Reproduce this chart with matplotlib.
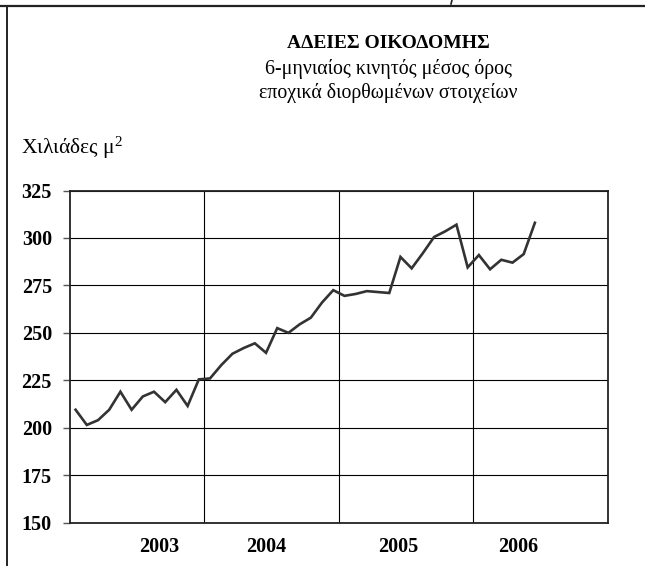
import matplotlib
matplotlib.use('Agg')
from matplotlib import pyplot as plt

# 6-month moving average, thousands m2, monthly
values = [209.5, 201.5, 204, 209.5, 219, 209.5, 216.5, 219, 213.5, 220, 211.5, 225.5,
          226, 233, 239, 242, 244.5, 239.5, 252.5, 250, 254.5, 258, 266, 272.5,
          269.5, 270.5, 272, 271.5, 271, 290, 284, 292, 300.5, 303.5, 307, 284.5,
          291, 283.5, 288.5, 287, 291.5, 308]
months = list(range(len(values)))
years = ['2003', '2004', '2005', '2006']
year_pos = [7.5, 17, 28.8, 39.5]
year_bounds = [11.5, 23.5, 35.5]
yticks = [150, 175, 200, 225, 250, 275, 300, 325]

plt.rcParams['font.family'] = ['Liberation Serif', 'DejaVu Serif']
plt.rcParams['mathtext.fontset'] = 'custom'
plt.rcParams['mathtext.rm'] = 'Liberation Serif'
plt.rcParams['mathtext.it'] = 'Liberation Serif'

fig = plt.figure(figsize=(6.45, 5.66), dpi=100)
ax = fig.add_axes([70 / 645, 1 - 522.7 / 566, (607.7 - 70) / 645, (522.7 - 190.5) / 566])

ax.plot(months, values, color='#333333', lw=1.9, solid_joinstyle='miter')

ax.set_xlim(-0.5, 47.5)
ax.set_ylim(150, 325)
ax.set_yticks(yticks)
ax.set_yticklabels([str(v) for v in yticks], fontsize=14.5, fontweight='bold')
ax.set_xticks(year_pos)
ax.set_xticklabels(years, fontsize=14.5, fontweight='bold')
ax.set_xticks(year_bounds, minor=True)
ax.tick_params(axis='x', which='both', length=0, pad=10)
ax.tick_params(axis='y', length=5, width=1, pad=8, color='#555555')
ax.grid(axis='y', color='black', lw=0.8)
ax.grid(axis='x', which='minor', color='black', lw=0.8)
ax.set_axisbelow(True)
for s in ax.spines.values():
    s.set_linewidth(1.3)
    s.set_color('#222222')

# titles
fig.text(388 / 645, 1 - 44 / 566, 'ΑΔΕΙΕΣ ΟΙΚΟΔΟΜΗΣ', ha='center', va='center',
         fontsize=14, fontweight='bold')
fig.text(388 / 645, 1 - 69 / 566, '6-μηνιαίος κινητός μέσος όρος', ha='center',
         va='center', fontsize=14.3)
fig.text(388 / 645, 1 - 93 / 566, 'εποχικά διορθωμένων στοιχείων', ha='center',
         va='center', fontsize=14.3)
fig.text(21 / 645, 1 - 154 / 566, 'Χιλιάδες μ$^{2}$', ha='left', va='baseline', fontsize=15.5)

# frame lines of the page box
fig.add_artist(plt.Line2D([0, 1], [1 - 6 / 566, 1 - 6 / 566], color='#222222', lw=1.6))
fig.add_artist(plt.Line2D([7 / 645, 7 / 645], [0, 1 - 6 / 566], color='#222222', lw=1.4))
fig.add_artist(plt.Line2D([452 / 645, 451 / 645], [1, 1 - 4 / 566], color='#222222', lw=1.2))

fig.savefig('out.png', dpi=100)
